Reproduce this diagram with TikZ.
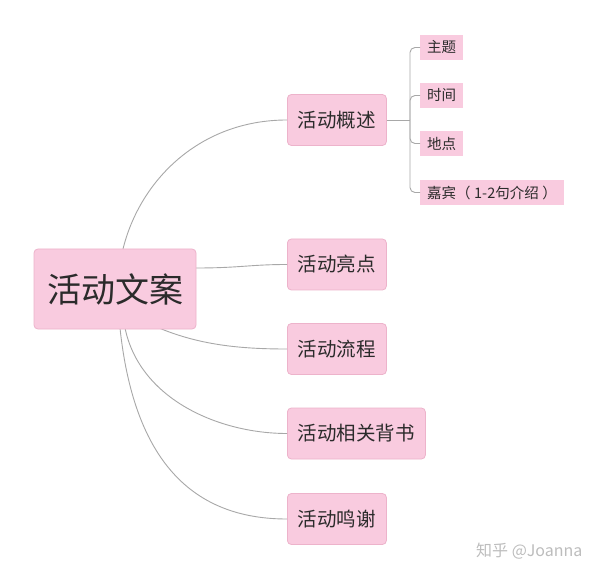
\documentclass[tikz,border=0pt]{standalone}
\usepackage{fontspec}
\setmainfont{Noto Sans CJK SC}
\definecolor{boxpink}{HTML}{F9CBDF}
\definecolor{boxedge}{HTML}{EDB3CB}
\definecolor{linegray}{HTML}{A8A8A8}
\definecolor{txt}{HTML}{2B2B2B}
\definecolor{wm}{HTML}{BDBDBD}
\tikzset{
  rootbox/.style={draw=boxedge, fill=boxpink, rounded corners=4pt, line width=0.8pt,
    minimum width=162pt, minimum height=80pt, text=txt,
    font=\fontsize{34}{34}\selectfont},
  childbox/.style={draw=boxedge, fill=boxpink, rounded corners=4pt, line width=0.8pt,
    anchor=west, inner xsep=10.5pt, inner ysep=0pt, minimum height=51pt, text=txt,
    font=\fontsize{19.5}{19.5}\selectfont},
  subbox/.style={fill=boxpink, anchor=west, inner xsep=7pt, inner ysep=0pt,
    minimum height=24.5pt, text=txt, font=\fontsize{14.5}{14.5}\selectfont},
  conn/.style={draw=linegray, line width=0.9pt},
}
\begin{document}
\begin{tikzpicture}[x=1pt,y=-1pt]
\useasboundingbox (0,0) rectangle (600,580);
\fill[white] (0,0) rectangle (600,580);

\coordinate (r1) at (123,249);
\coordinate (r2) at (196,268);
\coordinate (r3) at (159,328);
\coordinate (r4) at (125,328);
\coordinate (r5) at (120,328);

\node[childbox] (c1) at (287,120) {活动概述};
\node[childbox] (c2) at (287,264.5) {活动亮点};
\node[childbox] (c3) at (287,349) {活动流程};
\node[childbox] (c4) at (287,433.5) {活动相关背书};
\node[childbox] (c5) at (287,519) {活动鸣谢};

\node[subbox] (s1) at (420,47.5) {主题};
\node[subbox] (s2) at (420,95.5) {时间};
\node[subbox] (s3) at (420,143.5) {地点};
\node[subbox] (s4) at (420,192.5) {嘉宾（\hspace{3.5pt}1-2句介绍\hspace{3.5pt}）};

\draw[conn] (r1) .. controls (140,180) and (200,120) .. (c1.west);
\draw[conn] (r2) .. controls (240,268) and (250,264.5) .. (c2.west);
\draw[conn] (r3) .. controls (200,345) and (240,349) .. (c3.west);
\draw[conn] (r4) .. controls (140,400) and (220,433.5) .. (c4.west);
\draw[conn] (r5) .. controls (135,470) and (200,519) .. (c5.west);

\node[rootbox] (root) at (115,289) {活动文案};

\coordinate (br) at (410,120);
\draw[conn] (c1.east) -- (br);
\draw[conn, rounded corners=5pt] (s1.west) -| (br) |- (s4.west);
\draw[conn, rounded corners=5pt] (s2.west) -| (br);
\draw[conn, rounded corners=5pt] (s3.west) -| (br);

\node[text=wm, font=\fontsize{16}{16}\selectfont, anchor=east] (mark) at (586,551) {知乎 @Joanna};
\end{tikzpicture}
\end{document}
